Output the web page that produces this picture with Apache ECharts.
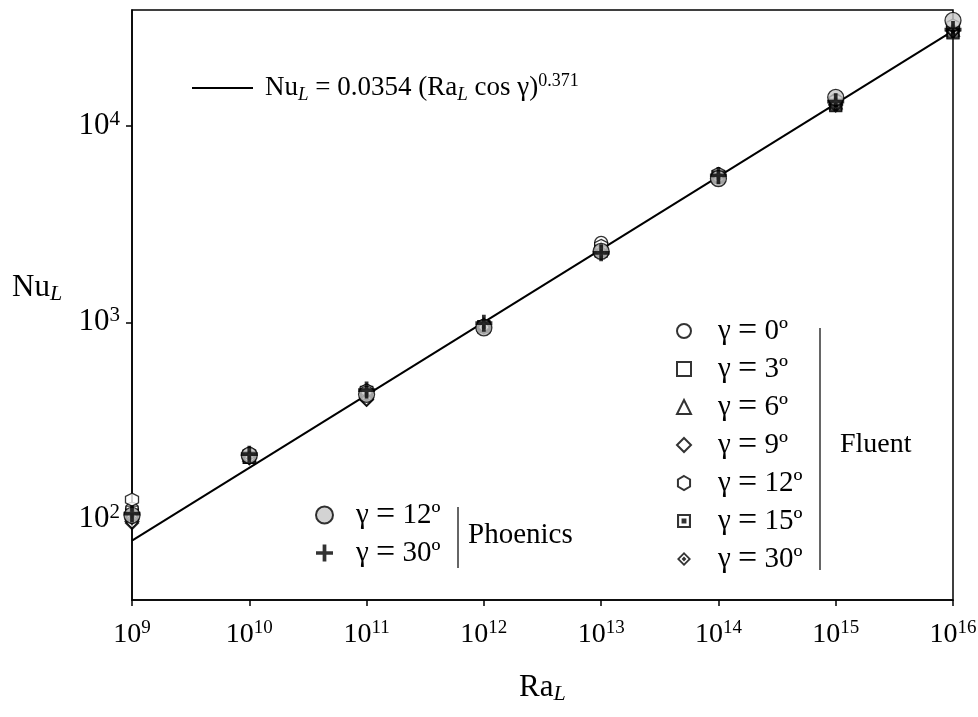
<!DOCTYPE html>
<html><head><meta charset="utf-8">
<script src="https://cdn.jsdelivr.net/npm/echarts@6/dist/echarts.min.js"></script>
<style>html,body{margin:0;padding:0;background:#fff}#c{width:978px;height:717px}</style>
</head><body><div id="c"></div>
<script>
// ---- data ----
const raL = [1e9, 1e10, 1e11, 1e12, 1e13, 1e14, 1e15, 1e16];
const yTickValues = [100, 1000, 10000];
// Fluent
const nuF0  = [112, 210, 445, 960, 2540, 5600, 13500, 32000];
const nuF3  = [108, 205, 440, 950, 2330, 5500, 12700, 29800];
const nuF6  = [107, 212, 445, 975, 2380, 5650, 13200, 31000];
const nuF9  = [97, 205, 405, 945, 2300, 5400, 12800, 30500];
const nuF12 = [125, 215, 450, 965, 2450, 5700, 13500, 32500];
const nuF15 = [104, 205, 430, 950, 2300, 5500, 12800, 30000];
const nuF30 = [95, 203, 405, 945, 2280, 5400, 12900, 30500];
// Phoenics
const nuP12 = [104, 210, 430, 938, 2300, 5400, 14000, 34500];
const nuP30 = [106, 213, 452, 990, 2260, 5600, 13300, 31000];
// correlation line endpoints
const fitRa = [1e9, 1e16];
const fitNu = [77.3, 30550];

const fluentNames = ['F0', 'F3', 'F6', 'F9', 'F12', 'F15', 'F30'];
const phoenicsNames = ['P12', 'P30'];
const angleText = { F0: '0º', F3: '3º', F6: '6º', F9: '9º', F12: '12º', F15: '15º', F30: '30º', P12: '12º', P30: '30º' };

const FONT = '"Liberation Serif", "Times New Roman", serif';
const hexPath = 'path://M10,0 L18.66,5 L18.66,15 L10,20 L1.34,15 L1.34,5 Z';
const sqDot = 'path://M0,0 L20,0 L20,20 L0,20 Z M3,3 L3,17 L17,17 L17,3 Z M6.5,6.5 L13.5,6.5 L13.5,13.5 L6.5,13.5 Z';
const diaDot = 'path://M10,0 L20,10 L10,20 L0,10 Z M10,3.6 L3.6,10 L10,16.4 L16.4,10 Z M10,6.6 L13.4,10 L10,13.4 L6.6,10 Z';
const plusPath = 'path://M7.8,0 L12.2,0 L12.2,7.8 L20,7.8 L20,12.2 L12.2,12.2 L12.2,20 L7.8,20 L7.8,12.2 L0,12.2 L0,7.8 L7.8,7.8 Z';

function pairs(ys) { return raL.map((x, i) => [x, ys[i]]); }
const openStyle = { color: '#fff', borderColor: '#000', borderWidth: 1.3 };
const solidStyle = { color: '#000', borderWidth: 0 };

function sc(name, ys, symbol, size, style, z) {
  return { name, type: 'scatter', data: pairs(ys), symbol, symbolSize: size,
    itemStyle: style, z: z || 3, emphasis: { disabled: true } };
}

const xTickRich = {
  b: { fontSize: 28, fontFamily: FONT, color: '#000', lineHeight: 32 },
  s: { fontSize: 19, fontFamily: FONT, color: '#000', verticalAlign: 'top', lineHeight: 19 }
};
const yTickRich = {
  b: { fontSize: 31, fontFamily: FONT, color: '#000', lineHeight: 34 },
  s: { fontSize: 21, fontFamily: FONT, color: '#000', verticalAlign: 'top', lineHeight: 20 }
};
function powLabel(v) { const e = Math.round(Math.log10(v)); return '{b|10}{s|' + e + '}'; }

const legRich = {
  t: { fontSize: 29, fontFamily: FONT, color: '#000', lineHeight: 24 },
  e: { fontSize: 34, fontFamily: FONT, color: '#000', lineHeight: 24 }
};
function legFmt(n) { return '{t|γ }{e|=}{t| ' + angleText[n] + '}'; }

const option = {
  backgroundColor: '#fff',
  animation: false,
  grid: { left: 132, right: 25, top: 10, bottom: 117, show: true, borderColor: '#000', borderWidth: 1.5,
    backgroundColor: 'transparent', outerBoundsMode: 'none', containLabel: false },
  xAxis: {
    type: 'log', logBase: 10, min: 1e9, max: 1e16,
    axisLine: { lineStyle: { color: '#000', width: 1.5 } },
    axisTick: { inside: false, length: 6, lineStyle: { color: '#000', width: 1.5 } },
    splitLine: { show: false },
    axisLabel: { formatter: powLabel, rich: xTickRich, margin: 19 }
  },
  yAxis: {
    type: 'log', logBase: 10, min: 38.5, max: 39000,
    axisLine: { lineStyle: { color: '#000', width: 1.5 } },
    axisTick: { inside: false, length: 6, lineStyle: { color: '#000', width: 1.5 }, customValues: yTickValues },
    splitLine: { show: false },
    axisLabel: { formatter: powLabel, rich: yTickRich, margin: 12, customValues: yTickValues }
  },
  legend: [
    {
      data: [{ name: 'fit', icon: 'rect' }], left: 192, top: 72, orient: 'vertical', selectedMode: false, padding: 0,
      itemWidth: 61, itemHeight: 2,
      formatter: () => '{n|Nu}{i|L}{n| = 0.0354 (Ra}{i|L}{n| cos γ)}{p|0.371}',
      textStyle: { padding: [0, 0, 0, 7], rich: {
        n: { fontSize: 27, fontFamily: FONT, color: '#000', lineHeight: 32 },
        i: { fontSize: 19, fontFamily: FONT, fontStyle: 'italic', color: '#000', verticalAlign: 'bottom', lineHeight: 20 },
        p: { fontSize: 18, fontFamily: FONT, color: '#000', verticalAlign: 'top', lineHeight: 16 }
      } }
    },
    {
      data: fluentNames, left: 676, top: 314, orient: 'vertical', selectedMode: false, padding: 0,
      itemWidth: 14, itemHeight: 14, itemGap: 4,
      formatter: legFmt,
      textStyle: { lineHeight: 24, padding: [0, 0, 0, 22], rich: legRich }
    },
    {
      data: phoenicsNames, left: 315, top: 498, orient: 'vertical', selectedMode: false, padding: 0,
      itemWidth: 17, itemHeight: 17, itemGap: 4,
      formatter: legFmt,
      textStyle: { lineHeight: 24, padding: [0, 0, 0, 18], rich: legRich }
    }
  ],
  graphic: [
    { type: 'line', shape: { x1: 820, y1: 328, x2: 820, y2: 570 }, style: { stroke: '#333', lineWidth: 1.5 } },
    { type: 'line', shape: { x1: 458, y1: 507, x2: 458, y2: 568 }, style: { stroke: '#333', lineWidth: 1.5 } },
    { type: 'text', left: 840, top: 431, style: { text: 'Fluent', font: '28px ' + FONT, fill: '#000' } },
    { type: 'text', left: 468, top: 521, style: { text: 'Phoenics', font: '29px ' + FONT, fill: '#000' } },
    { type: 'text', left: 12, top: 272, style: { text: '{n|Nu}{i|L}', rich: {
        n: { fontSize: 31, fontFamily: FONT, fill: '#000', lineHeight: 36 },
        i: { fontSize: 22, fontFamily: FONT, fontStyle: 'italic', fill: '#000', verticalAlign: 'bottom', lineHeight: 26 } } } },
    { type: 'text', left: 519, top: 672, style: { text: '{n|Ra}{i|L}', rich: {
        n: { fontSize: 31, fontFamily: FONT, fill: '#000', lineHeight: 36 },
        i: { fontSize: 22, fontFamily: FONT, fontStyle: 'italic', fill: '#000', verticalAlign: 'bottom', lineHeight: 26 } } } }
  ],
  series: [
    { name: 'fit', type: 'line', data: fitRa.map((x, i) => [x, fitNu[i]]), symbol: 'none', showSymbol: false,
      lineStyle: { color: '#000', width: 2 }, itemStyle: { color: '#000' }, z: 2, emphasis: { disabled: true } },
    sc('F0', nuF0, 'circle', 13, openStyle),
    sc('F3', nuF3, 'rect', 12, openStyle),
    sc('F6', nuF6, 'triangle', 13, openStyle),
    sc('F9', nuF9, 'diamond', 14, openStyle),
    sc('F12', nuF12, hexPath, 13, openStyle),
    sc('F15', nuF15, sqDot, 13, solidStyle),
    sc('F30', nuF30, diaDot, 15, solidStyle),
    sc('P12', nuP12, 'circle', 16, { color: '#c8c8c8', borderColor: '#000', borderWidth: 1.3 }, 4),
    sc('P30', nuP30, plusPath, 17, solidStyle, 5)
  ]
};
echarts.init(document.getElementById('c')).setOption(option);
</script>
</body></html>
